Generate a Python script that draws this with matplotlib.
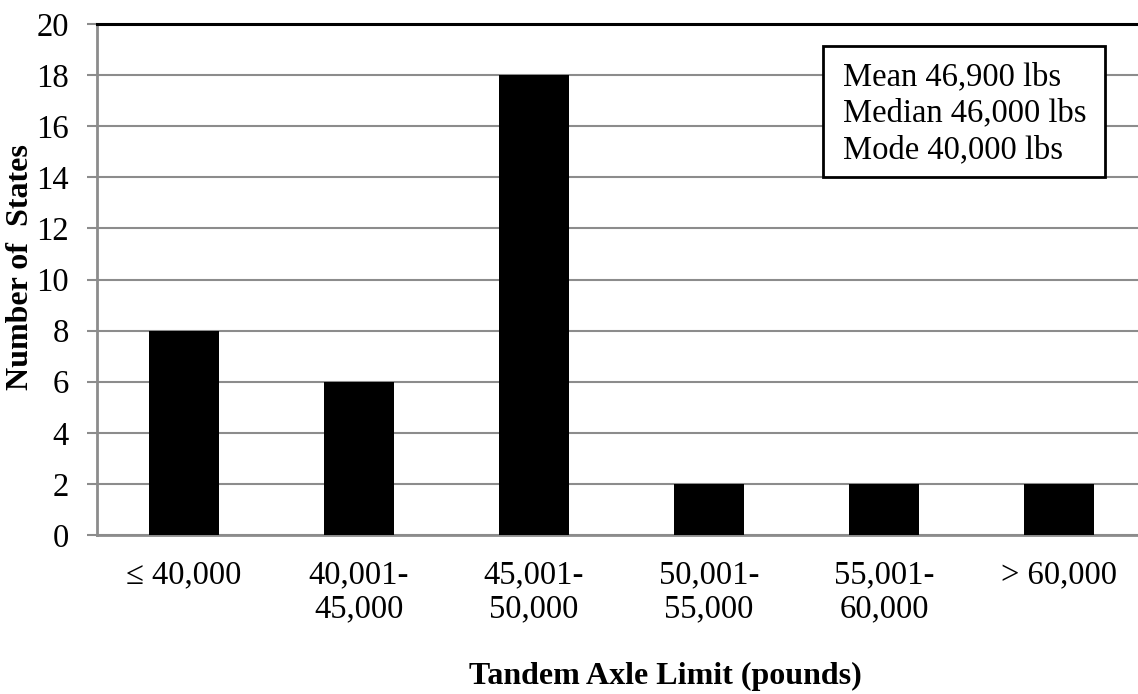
import matplotlib
matplotlib.use("Agg")
import matplotlib.pyplot as plt
from matplotlib.patches import Rectangle

categories = ["\u2264 40,000", "40,001-\n45,000", "45,001-\n50,000",
              "50,001-\n55,000", "55,001-\n60,000", "> 60,000"]
states = [8, 6, 18, 2, 2, 2]
yticks = [0, 2, 4, 6, 8, 10, 12, 14, 16, 18, 20]
stats_lines = ["Mean 46,900 lbs", "Median 46,000 lbs", "Mode 40,000 lbs"]

plt.rcParams["font.family"] = ["Liberation Serif", "DejaVu Serif"]

W, H = 1138, 694
fig = plt.figure(figsize=(W / 100, H / 100), dpi=100)
ax = fig.add_axes([96.5 / W, 1 - 535 / H, 1050 / W, (535 - 24) / H])

x = list(range(len(categories)))
ax.bar(x, states, width=0.4, color="black", zorder=3)

ax.set_xlim(-0.5, len(categories) - 0.5)
ax.set_ylim(0, 20)
ax.set_yticks(yticks)
ax.set_xticks(x)
ax.set_xticklabels(categories, fontsize=23.5, linespacing=1.12)
ax.tick_params(axis="y", labelsize=23.5, length=7, color="#8c8c8c", width=1.5, pad=13)
ax.tick_params(axis="x", length=0, pad=18)

ax.grid(axis="y", color="#8c8c8c", linewidth=1.5, zorder=0)
ax.axhline(20, color="black", linewidth=2.2, zorder=4, clip_on=False)

for side in ("top", "right"):
    ax.spines[side].set_visible(False)
for side in ("left", "bottom"):
    ax.spines[side].set_color("#8c8c8c")
    ax.spines[side].set_linewidth(2)

# axis titles
fig.text(21 / W, 1 - 267 / H, "Number of  States", fontsize=23, fontweight="bold",
         rotation=90, ha="center", va="center")
fig.text(665 / W, 1 - 676 / H, "Tandem Axle Limit (pounds)", fontsize=23,
         fontweight="bold", ha="center", va="center")

# summary statistics box
fig.add_artist(Rectangle((823 / W, 1 - 177 / H), (1105 - 823) / W, (177 - 46) / H,
                         transform=fig.transFigure, facecolor="white",
                         edgecolor="black", linewidth=2, zorder=5))
for i, line in enumerate(stats_lines):
    fig.text(843 / W, 1 - (85 + 36.7 * i) / H, line, fontsize=23.5,
             ha="left", va="baseline", zorder=6)

fig.savefig("out.png", dpi=100)
